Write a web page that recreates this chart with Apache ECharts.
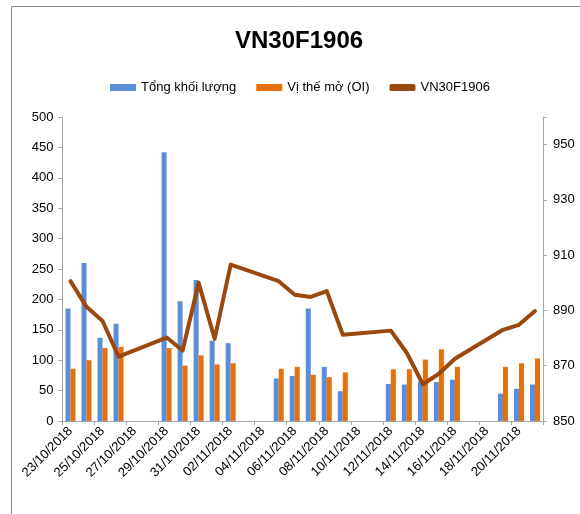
<!DOCTYPE html>
<html>
<head>
<meta charset="utf-8">
<script src="https://cdn.jsdelivr.net/npm/echarts@6/dist/echarts.min.js"></script>
<style>
html,body{margin:0;padding:0;background:#fff;}
#c{width:580px;height:514px;}
</style>
</head>
<body>
<div id="c"></div>
<script>
// Axis categories: every calendar day on the date axis
const categories = [
  '23/10/2018','24/10/2018','25/10/2018','26/10/2018','27/10/2018','28/10/2018',
  '29/10/2018','30/10/2018','31/10/2018','01/11/2018','02/11/2018','03/11/2018',
  '04/11/2018','05/11/2018','06/11/2018','07/11/2018','08/11/2018','09/11/2018',
  '10/11/2018','11/11/2018','12/11/2018','13/11/2018','14/11/2018','15/11/2018',
  '16/11/2018','17/11/2018','18/11/2018','19/11/2018','20/11/2018','21/11/2018'
];
// Trading days with data
const tradeDates = [
  '23/10/2018','24/10/2018','25/10/2018','26/10/2018',
  '29/10/2018','30/10/2018','31/10/2018','01/11/2018','02/11/2018',
  '05/11/2018','06/11/2018','07/11/2018','08/11/2018','09/11/2018',
  '12/11/2018','13/11/2018','14/11/2018','15/11/2018','16/11/2018',
  '19/11/2018','20/11/2018','21/11/2018'
];
const volume = [185, 260, 137, 160, 442, 197, 232, 132, 128, 70, 74, 185, 89, 49, 61, 60, 65, 64, 68, 45, 53, 60];
const openInterest = [86, 100, 120, 122, 120, 91, 108, 93, 95, 86, 89, 76, 72, 80, 85, 85, 101, 118, 89, 89, 95, 103];
const price = [900.6, 891.3, 886.2, 873.3, 880.2, 875.5, 900.0, 879.7, 906.6, 900.6, 895.7, 894.9, 897.0, 881.2, 882.7, 874.6, 863.3, 867.1, 872.5, 883.0, 884.8, 889.8];
const leftTicks = [0, 500, 50];
const rightTicks = [850, 960, 20];

const seriesNames = ['Tổng khối lượng', 'Vị thế mở (OI)', 'VN30F1906'];
const pair = arr => tradeDates.map((d, i) => [d, arr[i]]);

const chart = echarts.init(document.getElementById('c'), null, {renderer: 'canvas'});
const font = 'Liberation Sans, Arial, sans-serif';
const axisGrey = '#a6a6a6';
chart.setOption({
  animation: false,
  backgroundColor: '#ffffff',
  textStyle: {fontFamily: font},
  graphic: [{
    type: 'rect', shape: {x: 11.5, y: 6.5, width: 700, height: 700},
    style: {fill: 'none', stroke: '#8c8c8c', lineWidth: 1}, silent: true
  }],
  title: {
    text: 'VN30F1906', left: 230, top: 24,
    textStyle: {fontFamily: font, fontSize: 24, fontWeight: 'bold', color: '#000'}
  },
  legend: {
    left: 105, top: 76, itemWidth: 26, itemHeight: 7, itemGap: 20,
    textStyle: {fontFamily: font, fontSize: 13, color: '#000'},
    data: [
      {name: seriesNames[0], icon: 'rect'},
      {name: seriesNames[1], icon: 'rect'},
      {name: seriesNames[2], icon: 'roundRect'}
    ]
  },
  grid: {left: 62.5, right: 37, top: 117, bottom: 93, containLabel: false},
  xAxis: {
    type: 'category', data: categories, boundaryGap: true,
    axisLine: {lineStyle: {color: axisGrey, width: 1}},
    axisTick: {show: true, interval: 1, alignWithLabel: false, length: 4, lineStyle: {color: axisGrey}},
    axisLabel: {interval: 1, rotate: 45, fontSize: 13, color: '#000', fontFamily: font, margin: 8}
  },
  yAxis: [{
    type: 'value', min: leftTicks[0], max: leftTicks[1], interval: leftTicks[2],
    splitLine: {show: false},
    axisLine: {show: true, lineStyle: {color: axisGrey}},
    axisTick: {show: true, length: 4, lineStyle: {color: axisGrey}},
    axisLabel: {fontSize: 13, color: '#000', fontFamily: font, margin: 9}
  }, {
    type: 'value', min: rightTicks[0], max: rightTicks[1], interval: rightTicks[2],
    position: 'right',
    splitLine: {show: false},
    axisLine: {show: true, lineStyle: {color: axisGrey}},
    axisTick: {show: true, length: 4, lineStyle: {color: axisGrey}},
    axisLabel: {fontSize: 13, color: '#000', fontFamily: font, margin: 10,
      formatter: v => (v > 950 ? '' : String(v))}
  }],
  series: [{
    name: seriesNames[0], type: 'bar', yAxisIndex: 0, data: pair(volume),
    barWidth: 5, barGap: '0%', itemStyle: {color: '#5a8ed6'}
  }, {
    name: seriesNames[1], type: 'bar', yAxisIndex: 0, data: pair(openInterest),
    barWidth: 5, barGap: '0%', itemStyle: {color: '#e8700c'}
  }, {
    name: seriesNames[2], type: 'line', yAxisIndex: 1, data: pair(price),
    showSymbol: false, symbol: 'none', connectNulls: true,
    lineStyle: {color: '#9a480e', width: 4, cap: 'round', join: 'round'},
    itemStyle: {color: '#9a480e'}
  }]
});
</script>
</body>
</html>
